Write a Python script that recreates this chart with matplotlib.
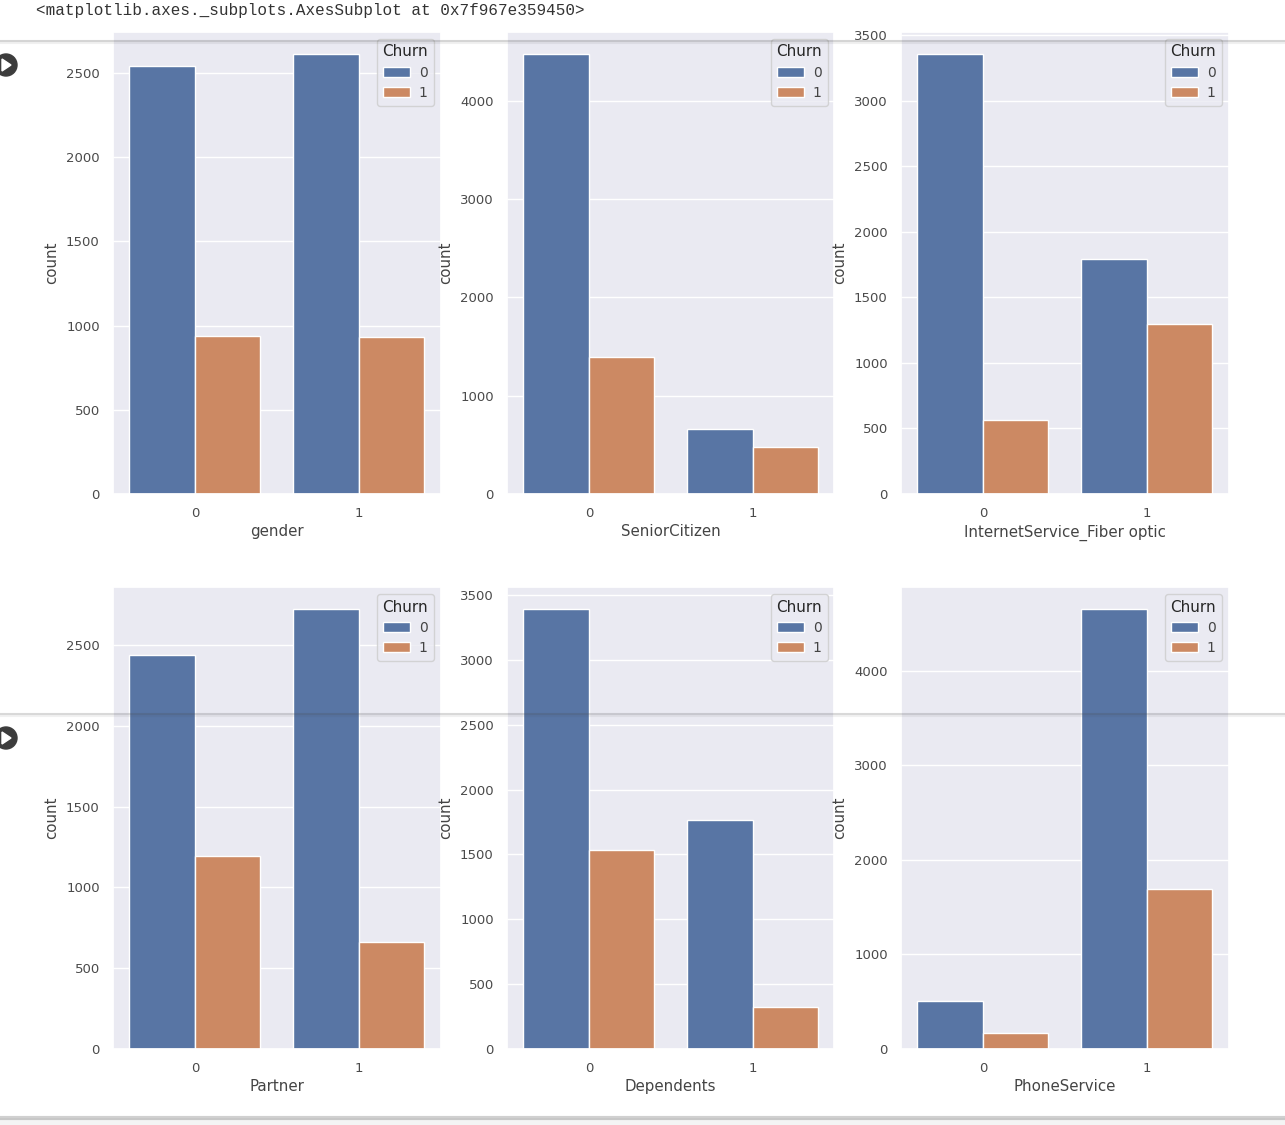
import matplotlib.pyplot as plt
import numpy as np
import seaborn as sns
from matplotlib.lines import Line2D
from matplotlib.patches import Circle, Polygon, Rectangle

W, H = 1285, 1125

features = ['gender', 'SeniorCitizen', 'InternetService_Fiber optic',
            'Partner', 'Dependents', 'PhoneService']
churn_0 = [[2543, 2613], [4478, 664], [3356, 1792],
           [2438, 2723], [3392, 1768], [505, 4656]]
churn_1 = [[938, 930], [1394, 478], [564, 1297],
           [1194, 664], [1534, 324], [170, 1693]]
categories = ['0', '1']
header = '<matplotlib.axes._subplots.AxesSubplot at 0x7f967e359450>'

colors = ['#5875a4', '#cc8963']


def px_box(left, top, right, bottom):
    return [left / W, 1 - bottom / H, (right - left) / W, (bottom - top) / H]


def main():
    sns.set_theme()
    plt.rcParams['font.size'] = 9.5
    fig = plt.figure(figsize=(W / 100, H / 100), dpi=100)

    lefts = [113, 507, 901]
    tops = [32, 587]
    x = np.arange(len(categories))
    width = 0.4

    for i, name in enumerate(features):
        left = lefts[i % 3]
        top = tops[i // 3]
        ax = fig.add_axes(px_box(left, top, left + 327.5, top + 462))
        ax.bar(x - width / 2, churn_0[i], width, color=colors[0],
               edgecolor='white', linewidth=1, label='0')
        ax.bar(x + width / 2, churn_1[i], width, color=colors[1],
               edgecolor='white', linewidth=1, label='1')
        ax.set_xlim(-0.5, 1.5)
        ax.set_xticks(x, categories)
        ax.set_xlabel(name, fontsize=10.8, labelpad=3, color='#444444')
        ax.set_ylabel('count', fontsize=10.8, labelpad=5, color='#444444')
        ax.tick_params(labelsize=9.5, labelcolor='#4a4a4a')
        ax.grid(axis='x', visible=False)
        ax.legend(title='Churn', loc='upper right', fontsize=10, title_fontsize=11,
                  labelcolor='#444444', labelspacing=0.45, handlelength=2.0,
                  handletextpad=0.6, borderpad=0.4, borderaxespad=0.5)

    # notebook bits around the plot
    fig.text(36 / W, 1 - 11 / H, header, family='Liberation Mono', fontsize=11.5,
             color='#333333', va='center')
    fig.add_artist(Rectangle((0, 0), 1, 7 / H, color='#f4f4f4', linewidth=0))
    for y, lw, alpha in [(41, 1.5, 0.22), (43, 1.5, 0.08), (714, 1.5, 0.2),
                         (716, 1.5, 0.07), (1118, 3, 0.25)]:
        fig.add_artist(Line2D([0, 1], [1 - y / H, 1 - y / H], color='#444444',
                              alpha=alpha, linewidth=lw))
    for y in [65, 738]:
        fig.add_artist(Circle((6, H - y), 11, color='#3c3c3c', transform=None))
        fig.add_artist(Polygon([(2, H - y - 6), (2, H - y + 6), (11, H - y)],
                               color='white', transform=None))

    fig.savefig('out.png', dpi=100)


if __name__ == '__main__':
    main()
